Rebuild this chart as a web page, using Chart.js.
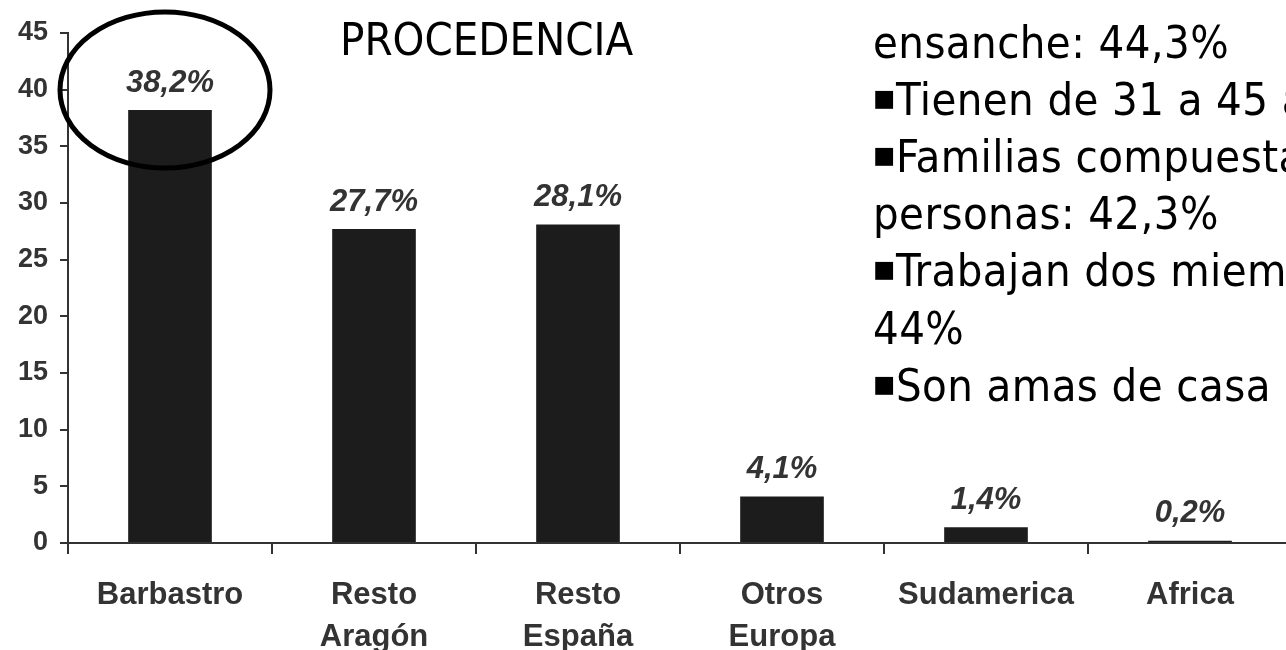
<!DOCTYPE html>
<html>
<head>
<meta charset="utf-8">
<script src="https://cdn.jsdelivr.net/npm/chart.js@4.4.1/dist/chart.umd.min.js"></script>
<style>
  html, body { margin: 0; padding: 0; background: #ffffff; overflow: hidden; width: 1286px; height: 650px; }
  #wrap { position: relative; width: 1300px; height: 650px; }
  canvas { display: block; }
</style>
</head>
<body>
<div id="wrap"><canvas id="c" width="1300" height="650"></canvas></div>
<script>
// ---- Data ----
const categories = [["Barbastro"], ["Resto", "Aragón"], ["Resto", "España"], ["Otros", "Europa"], ["Sudamerica"], ["Africa"]];
const values = [38.2, 27.7, 28.1, 4.1, 1.4, 0.2];
const valueLabels = ["38,2%", "27,7%", "28,1%", "4,1%", "1,4%", "0,2%"];
const yMin = 0;
const yMax = 45;
const yStep = 5;
const chartTitle = "PROCEDENCIA";
const sideLines = [
  { bullet: false, text: "ensanche: 44,3%" },
  { bullet: true,  text: "Tienen de 31 a 45 años" },
  { bullet: true,  text: "Familias compuestas por 4" },
  { bullet: false, text: "personas: 42,3%" },
  { bullet: true,  text: "Trabajan dos miembros:" },
  { bullet: false, text: "44%" },
  { bullet: true,  text: "Son amas de casa" }
];

const TEXT = '#333333';
const AXIS = '#333333';

const decorPlugin = {
  id: 'decor',
  afterDatasetsDraw(chart) {
    const ctx = chart.ctx;
    const meta = chart.getDatasetMeta(0);
    ctx.save();
    // value labels
    ctx.font = 'italic bold 31px "Liberation Sans", Arial, sans-serif';
    ctx.fillStyle = TEXT;
    ctx.textAlign = 'center';
    ctx.textBaseline = 'middle';
    meta.data.forEach((bar, i) => {
      ctx.fillText(valueLabels[i], bar.x, bar.y - 27);
    });
    // ellipse around first label
    const b0 = meta.data[0];
    ctx.beginPath();
    ctx.lineWidth = 5;
    ctx.strokeStyle = '#000000';
    ctx.ellipse(b0.x - 5, 90, 105, 78, 0, 0, Math.PI * 2);
    ctx.stroke();
    // title
    ctx.font = '45px "DejaVu Sans Condensed", "DejaVu Sans", sans-serif';
    ctx.fillStyle = '#000000';
    ctx.textAlign = 'left';
    ctx.textBaseline = 'alphabetic';
    ctx.fillText(chartTitle, 340, 55);
    // side text
    if ('letterSpacing' in ctx) ctx.letterSpacing = '0.4px';
    sideLines.forEach((ln, i) => {
      const by = 58 + 57.1 * i;
      if (ln.bullet) {
        ctx.font = '36px "DejaVu Sans", sans-serif';
        ctx.fillText('\u25AA', 872, by - 6);
        ctx.font = '45px "DejaVu Sans Condensed", "DejaVu Sans", sans-serif';
        ctx.fillText(ln.text, 896, by);
      } else {
        ctx.font = '45px "DejaVu Sans Condensed", "DejaVu Sans", sans-serif';
        ctx.fillText(ln.text, 873, by);
      }
    });
    ctx.restore();
  }
};

new Chart(document.getElementById('c'), {
  type: 'bar',
  data: {
    labels: categories,
    datasets: [{
      data: values,
      backgroundColor: '#1c1c1c',
      borderWidth: 0,
      categoryPercentage: 1.0,
      barPercentage: 0.41
    }]
  },
  options: {
    responsive: false,
    animation: false,
    devicePixelRatio: 1,
    layout: { padding: { top: 33, left: 0, right: 8, bottom: 0 } },
    plugins: { legend: { display: false }, tooltip: { enabled: false }, title: { display: false } },
    scales: {
      y: {
        min: yMin, max: yMax,
        afterFit(scale) { scale.width = 68; },
        ticks: {
          stepSize: yStep,
          color: TEXT,
          padding: 12,
          font: { family: '"Liberation Sans", Arial, sans-serif', size: 27, weight: 'bold' }
        },
        grid: { drawOnChartArea: false, drawTicks: true, tickLength: 8, color: AXIS, lineWidth: 2 },
        border: { display: true, color: AXIS, width: 2 }
      },
      x: {
        afterFit(scale) { scale.height = 107; },
        ticks: {
          color: TEXT,
          padding: 21,
          maxRotation: 0,
          autoSkip: false,
          font: { family: '"Liberation Sans", Arial, sans-serif', size: 31, weight: 'bold', lineHeight: 1.35 }
        },
        grid: { offset: true, drawOnChartArea: false, drawTicks: true, tickLength: 11, color: AXIS, lineWidth: 2 },
        border: { display: true, color: AXIS, width: 2 }
      }
    }
  },
  plugins: [decorPlugin]
});
</script>
</body>
</html>
